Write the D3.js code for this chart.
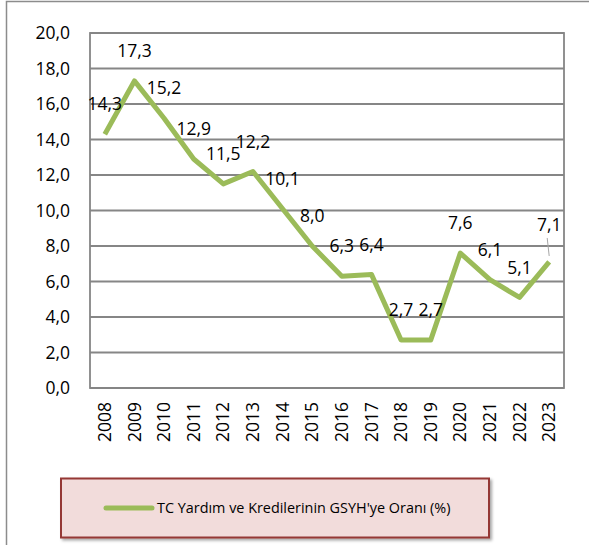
<!DOCTYPE html>
<html>
<head>
<meta charset="utf-8">
<script src="https://cdn.jsdelivr.net/npm/d3@7"></script>
<style>
  body { margin: 0; background: #fff; }
  text { font-family: "Open Sans", "Noto Sans", sans-serif; }
</style>
</head>
<body>
<div id="chart"></div>
<script>
const years = ["2008", "2009", "2010", "2011", "2012", "2013", "2014", "2015",
  "2016", "2017", "2018", "2019", "2020", "2021", "2022", "2023"];
const ratios = [14.3, 17.3, 15.2, 12.9, 11.5, 12.2, 10.1, 8.0,
  6.3, 6.4, 2.7, 2.7, 7.6, 6.1, 5.1, 7.1];
const yTicks = [0, 2, 4, 6, 8, 10, 12, 14, 16, 18, 20];
const seriesName = "TC Yardım ve Kredilerinin GSYH'ye Oranı (%)";

const W = 589;
const H = 545;
const margin = { left: 90, top: 33, right: 25, bottom: 157 };
const plotW = W - margin.left - margin.right;
const plotH = H - margin.top - margin.bottom;
const FONT = 17.5;

const fmt = v => v.toFixed(1).replace(".", ",");

const svg = d3.select("#chart")
  .append("svg")
  .attr("width", W)
  .attr("height", H);

// outer chart frame
svg.append("rect")
  .attr("x", 6.5)
  .attr("y", 1.5)
  .attr("width", W + 10)
  .attr("height", H + 10)
  .attr("fill", "#fff")
  .attr("stroke", "#8c8c8c")
  .attr("stroke-width", 1.5);

const g = svg.append("g")
  .attr("transform", `translate(${margin.left},${margin.top})`);

const x = d3.scaleBand()
  .domain(years)
  .range([0, plotW]);

const y = d3.scaleLinear()
  .domain([0, 20])
  .range([plotH, 0]);

// gridlines
g.append("g")
  .selectAll("line")
  .data(yTicks)
  .enter()
  .append("line")
  .attr("x1", 0)
  .attr("x2", plotW)
  .attr("y1", d => y(d))
  .attr("y2", d => y(d))
  .attr("stroke", "#868686")
  .attr("stroke-width", 1.8);

// plot border
g.append("rect")
  .attr("x", 0)
  .attr("y", 0)
  .attr("width", plotW)
  .attr("height", plotH)
  .attr("fill", "none")
  .attr("stroke", "#868686")
  .attr("stroke-width", 1.8);

// y axis
const yAxis = d3.axisLeft(y)
  .tickValues(yTicks)
  .tickFormat(fmt)
  .tickSize(0)
  .tickPadding(20);
const yG = g.append("g").call(yAxis);
yG.select(".domain").remove();
yG.selectAll("text")
  .attr("font-size", FONT)
  .attr("fill", "#000");

// x axis
const xAxis = d3.axisBottom(x).tickSize(0).tickPadding(0);
const xG = g.append("g")
  .attr("transform", `translate(0,${plotH})`)
  .call(xAxis);
xG.select(".domain").remove();
xG.selectAll("text")
  .attr("font-size", FONT)
  .attr("fill", "#000")
  .attr("transform", "rotate(-90)")
  .attr("text-anchor", "end")
  .attr("x", -14)
  .attr("y", 0)
  .attr("dy", "0.35em");

const cx = d => x(d) + x.bandwidth() / 2;

// line
const line = d3.line()
  .x((d, i) => cx(years[i]))
  .y(d => y(d));

g.append("path")
  .datum(ratios)
  .attr("d", line)
  .attr("fill", "none")
  .attr("stroke", "#9bbb59")
  .attr("stroke-width", 5)
  .attr("stroke-linejoin", "round");

// leader line for the last label
const last = ratios.length - 1;
g.append("line")
  .attr("x1", cx(years[last]) - 2)
  .attr("x2", cx(years[last]))
  .attr("y1", y(ratios[last]) - 24)
  .attr("y2", y(ratios[last]) - 6)
  .attr("stroke", "#a6a6a6")
  .attr("stroke-width", 1);

// data labels
g.append("g")
  .selectAll("text")
  .data(ratios)
  .enter()
  .append("text")
  .attr("x", (d, i) => cx(years[i]))
  .attr("y", (d, i) => y(d) - (i === last ? 37 : 30))
  .attr("dy", "0.35em")
  .attr("text-anchor", "middle")
  .attr("font-size", FONT)
  .attr("fill", "#000")
  .text(d => fmt(d));

// legend
const legend = svg.append("g");
const defs = svg.append("defs");
const filter = defs.append("filter").attr("id", "shadow")
  .attr("x", "-5%").attr("y", "-10%").attr("width", "115%").attr("height", "130%");
filter.append("feDropShadow")
  .attr("dx", 2).attr("dy", 2).attr("stdDeviation", 1.5)
  .attr("flood-color", "#000").attr("flood-opacity", 0.35);

legend.append("rect")
  .attr("x", 61)
  .attr("y", 478.5)
  .attr("width", 428)
  .attr("height", 59)
  .attr("fill", "#f2dcdb")
  .attr("stroke", "#953735")
  .attr("stroke-width", 2)
  .attr("filter", "url(#shadow)");

legend.append("line")
  .attr("x1", 106)
  .attr("x2", 152)
  .attr("y1", 508)
  .attr("y2", 508)
  .attr("stroke", "#9bbb59")
  .attr("stroke-width", 5)
  .attr("stroke-linecap", "round");

legend.append("text")
  .attr("x", 157)
  .attr("y", 508)
  .attr("dy", "0.35em")
  .attr("font-size", 14.4)
  .attr("fill", "#000")
  .text(seriesName);
</script>
</body>
</html>
